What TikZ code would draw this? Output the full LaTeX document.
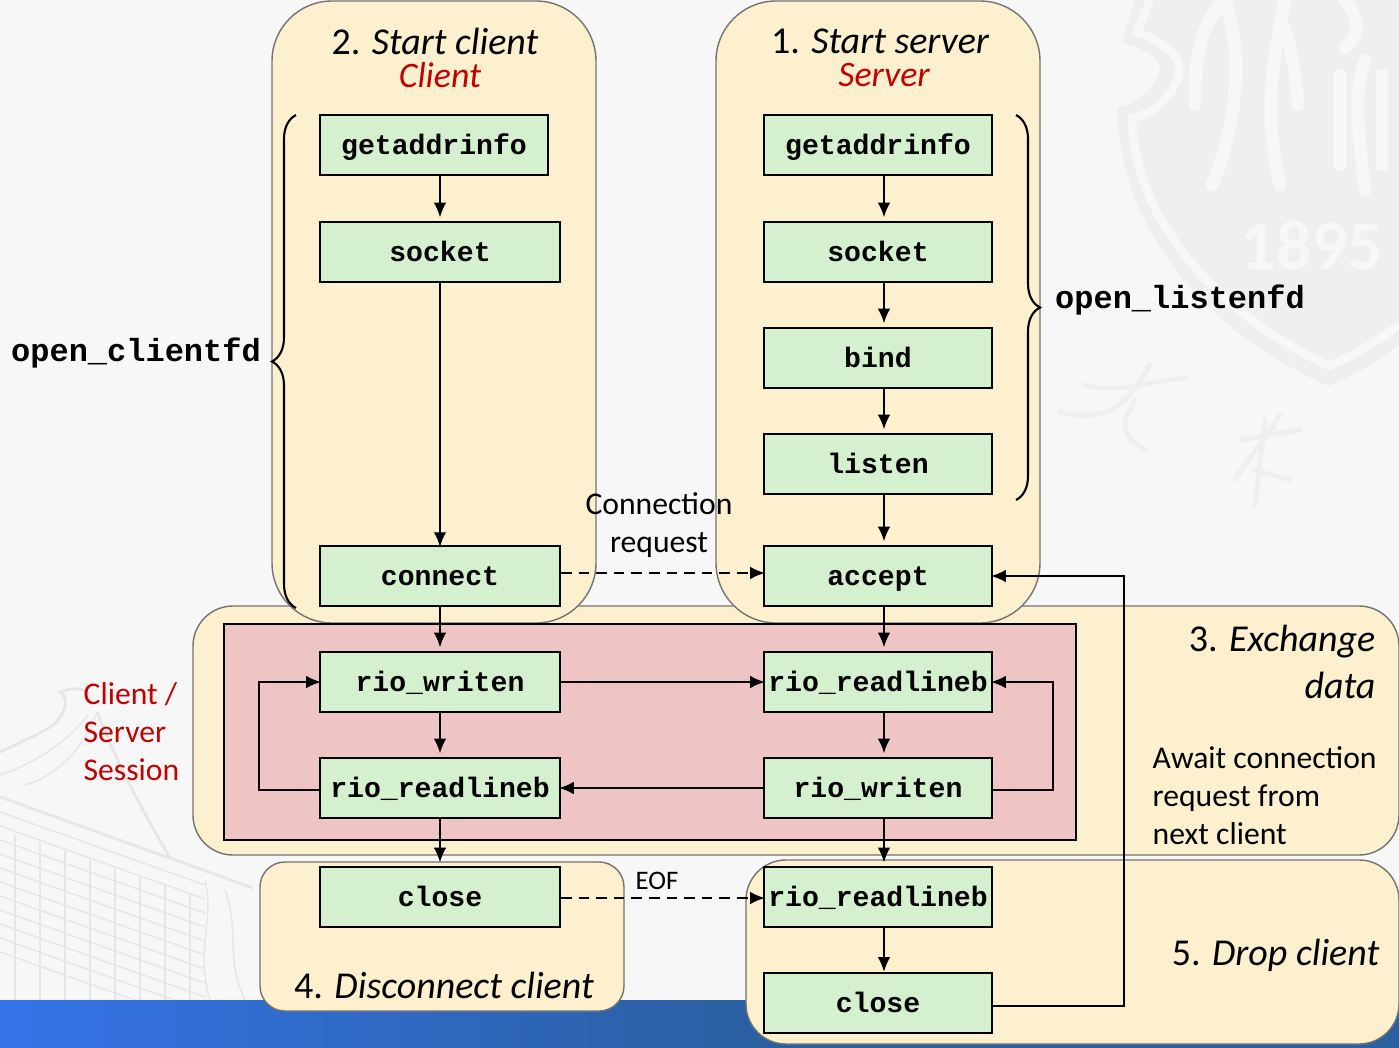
\documentclass[tikz,border=0pt]{standalone}
\usepackage{fontspec}
\setmainfont{Carlito}
\setmonofont{Liberation Mono}
\usepackage{xcolor}
\usetikzlibrary{calc,arrows.meta,decorations.pathreplacing}
\tikzset{>={Latex[length=4.2pt,width=3.6pt]}}
\definecolor{pagebg}{HTML}{F7F7F7}
\definecolor{panelfill}{HTML}{FDF0CE}
\definecolor{sessionfill}{HTML}{EEC4C4}
\definecolor{callfill}{HTML}{D5F0CF}
\definecolor{redtext}{HTML}{C00000}
\definecolor{wmark}{HTML}{EFEFEF}
\definecolor{wline}{HTML}{E6E6E6}
\definecolor{bandleft}{HTML}{3573E8}
\definecolor{bandright}{HTML}{2A5FA0}
\tikzset{
  call/.style={draw=black, fill=callfill, line width=0.6pt, inner sep=0pt,
    minimum width=2.28cm, minimum height=0.6cm, text height=6.2pt, text depth=1pt,
    font=\ttfamily\bfseries\fontsize{8}{8}\selectfont},
  wide/.style={call, minimum width=2.4cm},
  panel/.style={draw=black!55, fill=panelfill, line width=0.4pt},
  flow/.style={->, line width=0.6pt, shorten >=1pt},
  sideflow/.style={flow, shorten >=-0.6pt},
  request/.style={sideflow, densely dashed},
  fdname/.style={inner sep=0pt, font=\ttfamily\bfseries\fontsize{9.1}{9.1}\selectfont},
  caption/.style={inner sep=0pt, font=\fontsize{10.8}{10.8}\selectfont\itshape},
  redcaption/.style={inner sep=0pt, text=redtext, font=\fontsize{10.2}{10.2}\selectfont\itshape},
  note/.style={inner sep=0pt, font=\fontsize{9}{10.8}\selectfont, align=left},
  fdbrace/.style={decorate, decoration={brace, amplitude=0.24cm}, line width=0.6pt}
}
\begin{document}
\begin{tikzpicture}[x=0.01cm, y=-0.01cm]
  \useasboundingbox (0, 0) rectangle (1399, 1048);
  \fill[pagebg] (0, 0) rectangle (1399, 1048);
  % watermark, shield
  \fill[wmark] (1135, 0) -- (1122, 42) .. controls (1150, 52) and (1165, 60) .. (1158, 75)
    .. controls (1150, 95) and (1130, 105) .. (1117, 108)
    .. controls (1120, 240) and (1220, 340) .. (1329, 386)
    .. controls (1355, 375) and (1380, 360) .. (1399, 345) -- (1399, 0) -- cycle;
  \draw[pagebg, line width=2.4pt] (1150, 0) -- (1137, 32) .. controls (1165, 42) and (1185, 60) .. (1178, 78)
    .. controls (1170, 100) and (1150, 115) .. (1132, 118)
    .. controls (1135, 230) and (1230, 320) .. (1329, 366)
    .. controls (1355, 355) and (1380, 340) .. (1399, 325);
  \begin{scope}[pagebg, line width=3.6pt, line cap=round]
    \draw (1225, 0) .. controls (1195, 30) and (1195, 70) .. (1195, 105);
    \draw (1225, 0) .. controls (1245, 60) and (1235, 130) .. (1212, 185);
    \draw (1285, 0) .. controls (1270, 70) and (1265, 120) .. (1280, 185);
    \draw (1280, 20) .. controls (1295, 50) and (1295, 80) .. (1298, 105);
    \draw (1340, 75) -- (1340, 165);
    \draw (1345, 0) .. controls (1360, 20) and (1360, 35) .. (1345, 48);
    \draw (1365, 60) .. controls (1352, 90) and (1360, 150) .. (1365, 190);
    \draw (1382, 75) -- (1382, 165);
  \end{scope}
  \node[inner sep=0pt, anchor=west, text=pagebg, font=\bfseries\fontsize{20}{20}\selectfont]
    (crest) at (1240, 245) {1895};
  \begin{scope}[wmark, line width=1.4pt, line cap=round]
    \draw (1085, 385) .. controls (1120, 395) and (1150, 380) .. (1185, 378);
    \draw (1060, 412) .. controls (1110, 425) and (1130, 400) .. (1150, 365);
    \draw (1135, 400) .. controls (1125, 420) and (1115, 430) .. (1145, 450);
    \draw (1235, 480) .. controls (1250, 455) and (1265, 440) .. (1280, 415);
    \draw (1240, 440) -- (1300, 430);
    \draw (1255, 470) -- (1290, 480);
    \draw (1265, 420) -- (1255, 505);
  \end{scope}
  % watermark, building
  \begin{scope}[wline, line width=0.4pt]
    \draw[line width=0.8pt] (0, 797) -- (253, 888);
    \draw[line width=0.8pt] (0, 752) .. controls (25, 740) and (50, 730) .. (58, 720)
      .. controls (70, 705) and (65, 695) .. (60, 692) .. controls (75, 685) and (95, 690) .. (88, 700);
    \draw (0, 775) .. controls (30, 765) and (65, 745) .. (88, 715);
    \draw (25, 785) .. controls (60, 775) and (85, 745) .. (97, 712);
    \draw[line width=0.8pt] (97, 712) .. controls (120, 770) and (145, 815) .. (170, 858);
    \foreach \y in {0, 14, ..., 150} {
      \draw (0, 812 + \y) -- (205, 885 + \y);
    }
    \foreach \x in {15, 40, ..., 190} {
      \draw (\x, 830 + 0.33*\x) -- (\x, 1000);
    }
    \draw (205, 880) .. controls (215, 920) and (195, 950) .. (210, 1000);
    \draw (225, 890) .. controls (240, 930) and (225, 960) .. (245, 1000);
  \end{scope}
  % bottom band
  \shade[left color=bandleft, right color=bandright] (0, 1000) rectangle (760, 1048);
  \fill[bandright] (760, 1000) rectangle (1399, 1048);
  % panels
  \draw[panel, rounded corners=0.4cm] (193, 606) rectangle (1399, 855);
  \draw[panel, rounded corners=0.6cm] (272, 1) rectangle (596, 623);
  \draw[panel, rounded corners=0.6cm] (716, 1) rectangle (1040, 623);
  \draw[panel, rounded corners=0.25cm] (260, 862) rectangle (624, 1011);
  \draw[panel, rounded corners=0.4cm] (746, 860) rectangle (1399, 1044);
  \draw[fill=sessionfill, line width=0.6pt] (224, 624) rectangle (1076, 840);
  % client calls
  \node[call] (cgai) at (434, 145) {getaddrinfo};
  \node[wide] (csock) at (440, 252) {socket};
  \node[wide] (cconn) at (440, 576) {connect};
  \node[wide] (cwrite) at (440, 682) {rio\_writen};
  \node[wide] (cread) at (440, 788) {rio\_readlineb};
  \node[wide] (cclose) at (440, 897) {close};
  % server calls
  \node[call] (sgai) at (878, 145) {getaddrinfo};
  \node[call] (ssock) at (878, 252) {socket};
  \node[call] (sbind) at (878, 358) {bind};
  \node[call] (slisten) at (878, 464) {listen};
  \node[call] (saccept) at (878, 576) {accept};
  \node[call] (sread) at (878, 682) {rio\_readlineb};
  \node[call] (swrite) at (878, 788) {rio\_writen};
  \node[call] (sreadb) at (878, 897) {rio\_readlineb};
  \node[call] (sclose) at (878, 1003) {close};
  \coordinate (sline) at (884, 0);
  \coordinate (srail) at (1124, 0);
  % client flow
  \draw[flow] (cgai.south -| csock) -- (csock.north);
  \draw[flow, shorten >=-0.6pt] (csock.south) -- (cconn.north);
  \draw[flow] (cconn.south) -- (cwrite.north);
  \draw[flow] (cwrite.south) -- (cread.north);
  \draw[flow] (cread.south) -- (cclose.north);
  % server flow
  \draw[flow] (sgai.south -| sline) -- (ssock.north -| sline);
  \draw[flow] (ssock.south -| sline) -- (sbind.north -| sline);
  \draw[flow] (sbind.south -| sline) -- (slisten.north -| sline);
  \draw[flow] (slisten.south -| sline) -- (saccept.north -| sline);
  \draw[flow] (saccept.south -| sline) -- (sread.north -| sline);
  \draw[flow] (sread.south -| sline) -- (swrite.north -| sline);
  \draw[flow] (swrite.south -| sline) -- (sreadb.north -| sline);
  \draw[flow, shorten >=0pt] (sreadb.south -| sline) -- (sclose.north -| sline);
  % between client and server
  \draw[request] ($(cconn.east)+(0, -3)$) -- ($(saccept.west)+(0, -3)$);
  \draw[sideflow] (cwrite.east) -- (sread.west);
  \draw[sideflow] (swrite.west) -- (cread.east);
  \draw[request] ($(cclose.east)+(0, 1)$) -- ($(sreadb.west)+(0, 1)$);
  % loops
  \draw[sideflow] ($(cread.west)+(0, 2)$) -- ++(-60, 0) |- (cwrite.west);
  \draw[sideflow] ($(swrite.east)+(0, 2)$) -- ++(60, 0) |- (sread.east);
  \draw[sideflow] ($(sclose.east)+(0, 3)$) -| (srail |- saccept.east) -- (saccept.east);
  % braces
  \coordinate (cbrtop) at (296, 115);
  \coordinate (cbrbot) at (296, 608);
  \coordinate (sbrtop) at (1016, 115);
  \coordinate (sbrbot) at (1016, 500);
  \draw[fdbrace] (cbrbot) -- (cbrtop);
  \draw[fdbrace] (sbrtop) -- (sbrbot);
  \node[fdname] (clientfd) at (136, 353) {open\_clientfd};
  \node[fdname] (listenfd) at (1180, 300) {open\_listenfd};
  % captions
  \node[caption] (starts) at (880, 41) {{\upshape 1.} Start server};
  \node[redcaption] (server) at (884, 75) {Server};
  \node[caption] (startc) at (435, 41) {{\upshape 2.} Start client};
  \node[redcaption] (client) at (440, 75) {Client};
  \node[caption, anchor=east] (exch) at (1376, 642) {{\upshape 3.} Exchange};
  \node[caption, anchor=east] (exdata) at (1376, 685) {data};
  \node[caption] (disc) at (444, 985) {{\upshape 4.} Disconnect client};
  \node[caption, anchor=east] (drop) at (1380, 955) {{\upshape 5.} Drop client};
  % notes
  \node[note, anchor=west] (await) at (1152, 796) {Await connection\\request from\\next client};
  \node[note, anchor=west, text=redtext] (session) at (83, 732) {Client /\\Server\\Session};
  \node[note, align=center] (connreq) at (659, 525) {Connection\\request};
  \node[font=\fontsize{7.6}{8}\selectfont] (eof) at (657, 881) {EOF};
\end{tikzpicture}
\end{document}
